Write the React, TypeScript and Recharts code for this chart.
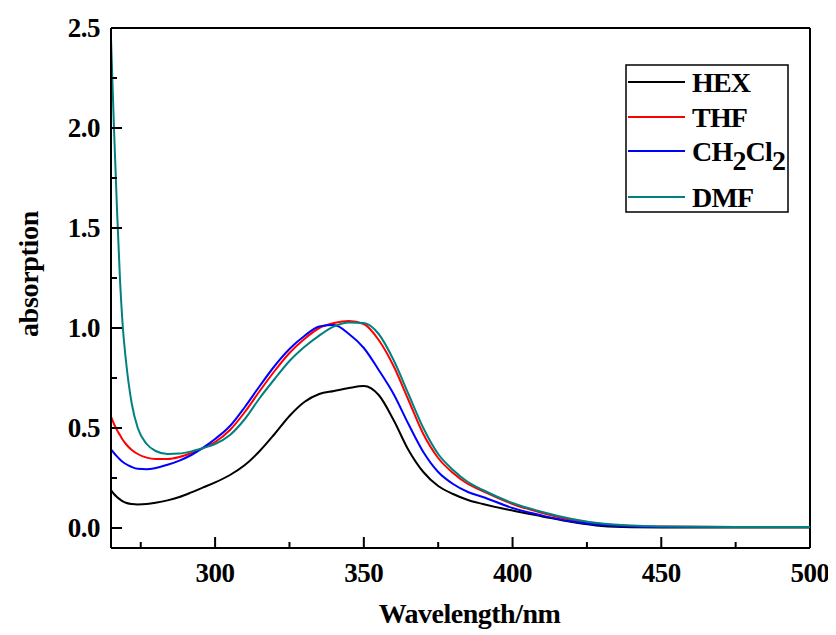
import React from 'react';
import { LineChart, Line, XAxis, YAxis, ReferenceLine, Legend } from 'recharts';

const wavelengths = [265, 266, 267, 268, 269, 270, 272, 274, 277, 280, 284, 288, 292, 296, 300, 305, 310, 315, 320, 325, 330, 335, 340, 345, 350, 355, 360, 365, 370, 375, 380, 385, 390, 400, 410, 420, 430, 440, 450, 475, 500];
const hex = [0.19, 0.17, 0.155, 0.143, 0.133, 0.126, 0.12, 0.118, 0.12, 0.126, 0.138, 0.155, 0.178, 0.203, 0.228, 0.265, 0.315, 0.385, 0.47, 0.56, 0.63, 0.67, 0.685, 0.7, 0.71, 0.665, 0.54, 0.39, 0.28, 0.21, 0.17, 0.14, 0.12, 0.087, 0.058, 0.03, 0.01, 0.004, 0.003, 0.003, 0.003];
const thf = [0.557, 0.52, 0.49, 0.465, 0.44, 0.42, 0.39, 0.37, 0.352, 0.345, 0.345, 0.355, 0.375, 0.4, 0.43, 0.49, 0.58, 0.685, 0.785, 0.875, 0.945, 1.0, 1.025, 1.035, 1.02, 0.94, 0.81, 0.64, 0.47, 0.35, 0.275, 0.22, 0.185, 0.12, 0.075, 0.04, 0.02, 0.01, 0.007, 0.005, 0.005];
const ch2cl2 = [0.393, 0.375, 0.358, 0.343, 0.33, 0.32, 0.305, 0.296, 0.294, 0.3, 0.316, 0.337, 0.365, 0.402, 0.445, 0.51, 0.605, 0.71, 0.81, 0.895, 0.96, 1.008, 1.015, 0.97, 0.9, 0.79, 0.67, 0.52, 0.38, 0.28, 0.22, 0.18, 0.155, 0.1, 0.062, 0.032, 0.015, 0.008, 0.005, 0.005, 0.005];
const dmf = [2.45, 2.0, 1.6, 1.25, 1.0, 0.84, 0.62, 0.5, 0.42, 0.385, 0.37, 0.372, 0.383, 0.4, 0.42, 0.465, 0.545, 0.65, 0.745, 0.835, 0.905, 0.962, 1.008, 1.028, 1.025, 0.97, 0.84, 0.67, 0.5, 0.37, 0.29, 0.23, 0.19, 0.125, 0.08, 0.045, 0.022, 0.012, 0.008, 0.005, 0.005];

const xTicks = [275, 300, 325, 350, 375, 400, 425, 450, 475, 500];
const yTicks = [0, 0.25, 0.5, 0.75, 1.0, 1.25, 1.5, 1.75, 2.0, 2.25, 2.5];
const seriesKeys = ['hex', 'thf', 'ch2cl2', 'dmf'];
const seriesNames = ['HEX', 'THF', 'CH2Cl2', 'DMF'];
const seriesColors = ['#000000', '#FF0000', '#0000FF', '#008080'];

const data = wavelengths.map((w, i) => ({
  w,
  hex: hex[i],
  thf: thf[i],
  ch2cl2: ch2cl2[i],
  dmf: dmf[i],
}));

const FONT = '"Liberation Serif", "Times New Roman", serif';

const XTick = (props: any) => {
  const { x, y, payload } = props;
  const v = payload.value;
  const major = v % 50 === 0;
  return (
    <g>
      <line x1={x} x2={x} y1={y} y2={y - (major ? 11 : 6)} stroke="#000" strokeWidth={2} />
      {major && (
        <text x={x} y={y + 34} textAnchor="middle" fontFamily={FONT} fontWeight="bold" fontSize={27} letterSpacing={-0.5} fill="#000">
          {v}
        </text>
      )}
    </g>
  );
};

const YTick = (props: any) => {
  const { x, y, payload } = props;
  const v = payload.value;
  const major = Math.abs(v * 2 - Math.round(v * 2)) < 1e-6;
  return (
    <g>
      <line x1={x} x2={x + (major ? 11 : 6)} y1={y} y2={y} stroke="#000" strokeWidth={2} />
      {major && (
        <text x={x - 11} y={y + 9} textAnchor="end" fontFamily={FONT} fontWeight="bold" fontSize={27} letterSpacing={-0.5} fill="#000">
          {v.toFixed(1)}
        </text>
      )}
    </g>
  );
};

const XTitle = (props: any) => {
  const { viewBox } = props;
  return (
    <text x={viewBox.x + viewBox.width / 2 + 9} y={viewBox.y + 75} textAnchor="middle" fontFamily={FONT} fontWeight="bold" fontSize={28} letterSpacing={-0.5} fill="#000">
      Wavelength/nm
    </text>
  );
};

const YTitle = (props: any) => {
  const { viewBox } = props;
  const cx = viewBox.x + 30;
  const cy = viewBox.y + viewBox.height / 2 - 14;
  return (
    <text x={cx} y={cy} transform={`rotate(-90 ${cx} ${cy})`} textAnchor="middle" fontFamily={FONT} fontWeight="bold" fontSize={28} letterSpacing={-0.3} fill="#000">
      absorption
    </text>
  );
};

const rowY = [18, 53, 87, 133];

const LegendBox = () => (
  <svg width={165} height={150} style={{ display: 'block' }}>
    <rect x={1} y={1} width={162} height={147} fill="#fff" stroke="#000" strokeWidth={1.5} />
    {seriesNames.map((name, i) => (
      <g key={name}>
        <line x1={3} x2={60} y1={rowY[i]} y2={rowY[i]} stroke={seriesColors[i]} strokeWidth={2} />
        <text x={67} y={rowY[i] + 10} fontFamily={FONT} fontWeight="bold" fontSize={28} fill="#000" letterSpacing={-0.8}>
          {name === 'CH2Cl2' ? (
            <>
              CH<tspan dy={9}>2</tspan>
              <tspan dy={-9}>Cl</tspan>
              <tspan dy={9}>2</tspan>
            </>
          ) : (
            name
          )}
        </text>
      </g>
    ))}
  </svg>
);

export default function App() {
  return (
    <LineChart width={828} height={627} data={data} margin={{ top: 20, right: 26, bottom: 7, left: 0 }}>
      <XAxis
        dataKey="w"
        type="number"
        domain={[265, 500]}
        ticks={xTicks}
        interval={0}
        allowDataOverflow
        height={80}
        tickSize={0}
        tickMargin={0}
        tickLine={false}
        axisLine={{ stroke: '#000', strokeWidth: 2 }}
        tick={<XTick />}
        label={<XTitle />}
      />
      <YAxis
        type="number"
        domain={[-0.1, 2.5]}
        ticks={yTicks}
        interval={0}
        allowDataOverflow
        width={103}
        tickSize={0}
        tickMargin={0}
        tickLine={false}
        axisLine={{ stroke: '#000', strokeWidth: 2 }}
        tick={<YTick />}
        label={<YTitle />}
      />
      <ReferenceLine y={2.5} stroke="#000" strokeWidth={2} />
      <ReferenceLine x={500} stroke="#000" strokeWidth={2} />
      {seriesKeys.map((k, i) => (
        <Line
          key={k}
          dataKey={k}
          name={seriesNames[i]}
          type="monotone"
          stroke={seriesColors[i]}
          strokeWidth={2}
          dot={false}
          activeDot={false}
          isAnimationActive={false}
        />
      ))}
      <Legend
        layout="vertical"
        align="center"
        verticalAlign="middle"
        content={<LegendBox />}
        wrapperStyle={{ position: 'absolute', left: 617, top: 56, width: 165, height: 150 }}
      />
    </LineChart>
  );
}
